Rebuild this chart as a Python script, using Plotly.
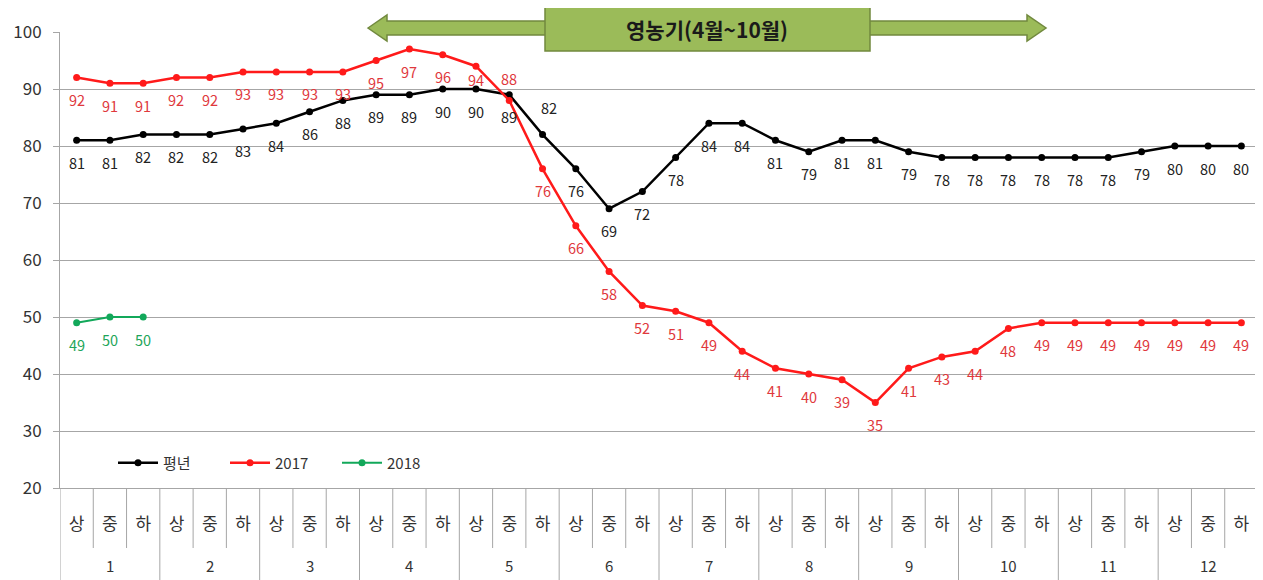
import plotly.graph_objects as go

# ---------------- data ----------------
months = [str(m) for m in range(1, 13)]
dekads = ["상", "중", "하"]
normal = [81, 81, 82, 82, 82, 83, 84, 86, 88, 89, 89, 90, 90, 89, 82, 76, 69, 72,
          78, 84, 84, 81, 79, 81, 81, 79, 78, 78, 78, 78, 78, 78, 79, 80, 80, 80]
y2017 = [92, 91, 91, 92, 92, 93, 93, 93, 93, 95, 97, 96, 94, 88, 76, 66, 58, 52,
         51, 49, 44, 41, 40, 39, 35, 41, 43, 44, 48, 49, 49, 49, 49, 49, 49, 49]
y2018 = [49, 50, 50]
series_names = ["평년", "2017", "2018"]
banner_text = "영농기(4월~10월)"

cats = [f"{m}-{d}" for m in months for d in dekads]
tick_text = [d for m in months for d in dekads]

FONT = "Noto Sans CJK KR, Noto Sans, sans-serif"
GRID = "#a6a6a6"

# the page places the figure 8px from the top-left corner (default body margin)
OFF = 8
FIG_W, FIG_H = 1263 - OFF, 580 - OFF
# plot-area geometry in page pixels (for decoration only)
L, R, T, B = 60, 1258, 32, 488
W, H = R - L, B - T


def px(x):
    return (x - L) / W


def py(y):
    return (B - y) / H


fig = go.Figure()

styles = {
    "평년": dict(line="#000000", text="#222222"),
    "2017": dict(line="#ff1a1a", text="#e0383c"),
    "2018": dict(line="#12a85a", text="#1ea55a"),
}
series = {"평년": normal, "2017": y2017, "2018": y2018}

for name in series_names:
    vals = series[name]
    fig.add_trace(go.Scatter(
        x=cats[:len(vals)], y=vals, name=name, mode="lines+markers",
        line=dict(color=styles[name]["line"], width=2.5 if name != "2018" else 2),
        marker=dict(size=7, color=styles[name]["line"]),
    ))

# label offset exceptions (xshift, yshift)
label_shift = {("2017", 13): (0, 22), ("평년", 14): (6, 27), ("2017", 12): (0, -13)}

for name in series_names:
    vals = series[name]
    for i, v in enumerate(vals):
        xs, ys = label_shift.get((name, i), (0, -22))
        fig.add_annotation(x=cats[i], y=v, text=str(v), showarrow=False,
                           xshift=xs, yshift=ys, yanchor="middle",
                           font=dict(family=FONT, size=14.5, color=styles[name]["text"]))

# month labels under the dekad labels
for mi, m in enumerate(months):
    fig.add_annotation(x=cats[mi * 3 + 1], y=py(565), yref="paper", text=m,
                       showarrow=False, yanchor="middle",
                       font=dict(family=FONT, size=15, color="#333333"))

# category separators
for i in range(len(cats) + 1):
    bottom = py(580) if i % 3 == 0 else py(548)
    fig.add_shape(type="line", xref="x", yref="paper", x0=i - 0.5, x1=i - 0.5,
                  y0=0, y1=bottom, line=dict(color=GRID, width=1))

# banner: double-headed arrow with box
arrow = [(368, 28), (387, 15), (387, 21), (1027, 21), (1027, 15), (1046, 28),
         (1027, 41), (1027, 35), (387, 35), (387, 41)]
path = "M " + " L ".join(f"{px(a):.5f},{py(b):.5f}" for a, b in arrow) + " Z"
fig.add_shape(type="path", xref="paper", yref="paper", path=path,
              fillcolor="#9bbb59", line=dict(color="#71893e", width=1.5), layer="above")
fig.add_shape(type="rect", xref="paper", yref="paper", x0=px(545), x1=px(870),
              y0=py(51), y1=py(4), fillcolor="#9bbb59",
              line=dict(color="#71893e", width=1.5), layer="above")
fig.add_annotation(xref="paper", yref="paper", x=px(707), y=py(29), text=f"<b>{banner_text}</b>",
                   showarrow=False, yanchor="middle", xanchor="center",
                   font=dict(family=FONT, size=21, color="#1a1a1a"))

fig.update_layout(
    width=FIG_W, height=FIG_H,
    margin=dict(l=L - OFF, r=FIG_W - (R - OFF), t=T - OFF, b=FIG_H - (B - OFF)),
    paper_bgcolor="white", plot_bgcolor="white",
    font=dict(family=FONT, color="#333333"),
    showlegend=True,
    legend=dict(orientation="h", x=px(113), y=py(463), xanchor="left", yanchor="middle",
                bgcolor="rgba(0,0,0,0)", font=dict(family=FONT, size=15, color="#333333"),
                itemwidth=40, entrywidth=57, entrywidthmode="pixels"),
)
fig.update_xaxes(
    type="category", categoryorder="array", categoryarray=cats,
    range=[-0.5, len(cats) - 0.5],
    tickvals=cats, ticktext=tick_text, ticks="", showgrid=False,
    showline=True, linecolor=GRID, linewidth=1,
    tickfont=dict(family=FONT, size=17, color="#333333"), ticklabelstandoff=21,
)
fig.update_yaxes(
    range=[20, 100], dtick=10, showgrid=True, gridcolor=GRID, gridwidth=1,
    showline=True, linecolor=GRID, linewidth=1, ticks="outside", ticklen=6, tickcolor=GRID,
    tickfont=dict(family=FONT, size=17, color="#333333"), ticklabelstandoff=8,
    zeroline=False,
)

fig.write_html("out.html")
